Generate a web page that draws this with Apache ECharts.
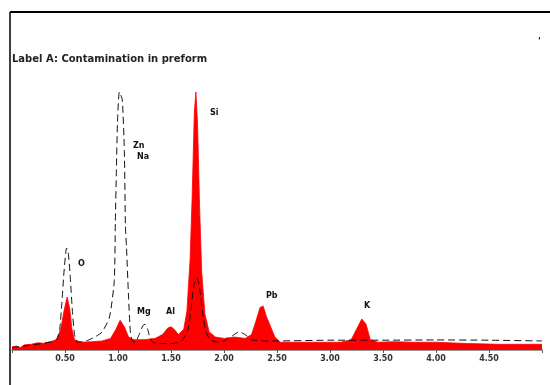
<!DOCTYPE html>
<html>
<head>
<meta charset="utf-8">
<script src="https://cdn.jsdelivr.net/npm/echarts@6/dist/echarts.min.js"></script>
<style>
  html, body { margin: 0; padding: 0; background: #fff; }
  #chart { width: 550px; height: 385px; }
</style>
</head>
<body>
<div id="chart"></div>
<script>
// spectrum A (red filled)
const redEnergy = [0.00, 0.04, 0.08, 0.12, 0.18, 0.24, 0.30, 0.36, 0.42, 0.46, 0.49, 0.52, 0.545, 0.565, 0.59, 0.65, 0.75, 0.85, 0.93, 0.98, 1.02, 1.06, 1.10, 1.15, 1.25, 1.35, 1.42, 1.47, 1.50, 1.53, 1.57, 1.62, 1.65, 1.68, 1.70, 1.72, 1.735, 1.75, 1.77, 1.79, 1.82, 1.86, 1.92, 2.00, 2.10, 2.20, 2.26, 2.30, 2.34, 2.37, 2.40, 2.44, 2.48, 2.53, 2.70, 2.90, 3.10, 3.20, 3.25, 3.30, 3.34, 3.38, 3.45, 3.60, 3.80, 4.00, 4.30, 4.60, 5.00];
const redCounts = [1.2, 1.5, 1.0, 2.0, 2.2, 2.8, 2.6, 3.2, 4, 8, 15, 20.5, 16, 8, 4, 3, 3.2, 3.5, 4.5, 8, 11.5, 9, 5, 4, 4, 4.5, 6, 8.5, 9, 8, 6, 8, 15, 35, 60, 92, 100, 88, 55, 30, 14, 7, 5, 4.5, 5, 4.5, 6, 11, 16.5, 17, 13, 9, 5, 3, 3, 3, 3, 4, 8, 12, 10, 4, 3, 3.2, 3, 3, 2.5, 2.2, 2.2];

// spectrum B (dashed)
const dashEnergy = [0.00, 0.20, 0.35, 0.42, 0.45, 0.47, 0.49, 0.515, 0.53, 0.55, 0.57, 0.59, 0.62, 0.70, 0.78, 0.85, 0.92, 0.965, 0.975, 0.985, 0.995, 1.013, 1.04, 1.06, 1.07, 1.08, 1.10, 1.115, 1.13, 1.16, 1.20, 1.235, 1.255, 1.28, 1.30, 1.33, 1.40, 1.50, 1.60, 1.66, 1.69, 1.715, 1.745, 1.77, 1.80, 1.83, 1.87, 1.95, 2.00, 2.08, 2.14, 2.20, 2.26, 2.35, 2.50, 3.00, 3.50, 4.00, 4.50, 5.00];
const dashCounts = [1, 2, 3, 4, 8, 18, 30, 39.5, 38, 28, 15, 6, 3, 3.5, 5, 7, 12.8, 27, 50, 70, 88, 100, 97, 77, 48, 40, 20, 8, 4, 3, 6, 9.5, 10, 8, 5, 3, 2.5, 2.5, 3.5, 8, 16, 25, 28, 24, 14, 7, 4, 3, 3.5, 5.5, 7, 6, 4, 3.5, 3.5, 3.8, 3.8, 3.9, 3.8, 3.5];

const tickLabels = ['', '0.50', '1.00', '1.50', '2.00', '2.50', '3.00', '3.50', '4.00', '4.50', ''];
const title = 'Label A: Contamination in preform';
const peakLabels = ['O', 'Zn', 'Na', 'Mg', 'Al', 'Si', 'Pb', 'K'];

const chart = echarts.init(document.getElementById('chart'), null, { renderer: 'canvas' });

const FONT = '"DejaVu Sans", "Liberation Sans", sans-serif';

const lbl = (text, x, y) => ({
  type: 'text',
  left: x, top: y,
  style: { text: text, fill: '#111', font: 'bold 8px ' + FONT }
});

const option = {
  animation: false,
  grid: { left: 12, right: 8, top: 92, bottom: 35 },
  xAxis: {
    type: 'value',
    min: 0,
    max: 5,
    interval: 0.5,
    axisLine: { lineStyle: { color: '#777', width: 1.5 } },
    axisTick: { show: true, length: 3, lineStyle: { color: '#555' } },
    axisLabel: {
      color: '#333',
      fontSize: 8,
      fontWeight: 'bold',
      fontFamily: FONT,
      margin: 5,
      formatter: (v) => tickLabels[Math.round(v / 0.5)]
    },
    splitLine: { show: false }
  },
  yAxis: {
    type: 'value',
    min: 0,
    max: 100,
    show: false
  },
  series: [
    {
      type: 'line',
      data: redEnergy.map((e, i) => [e, redCounts[i]]),
      symbol: 'none',
      lineStyle: { color: '#ff0000', width: 0.8 },
      areaStyle: { color: '#ff0000', opacity: 1 },
      z: 2
    },
    {
      type: 'line',
      data: dashEnergy.map((e, i) => [e, dashCounts[i]]),
      symbol: 'none',
      smooth: 0.2,
      lineStyle: { color: '#111', width: 1, type: [7, 4] },
      z: 3
    }
  ],
  graphic: [
    { type: 'line', shape: { x1: 10, y1: 12, x2: 550, y2: 12 }, style: { stroke: '#000', lineWidth: 2 } },
    { type: 'line', shape: { x1: 10, y1: 12, x2: 10, y2: 385 }, style: { stroke: '#000', lineWidth: 1.5 } },
    {
      type: 'text', left: 12, top: 54,
      style: { text: title, fill: '#222', font: 'bold 10px ' + FONT }
    },
    { type: 'text', left: 538, top: 37, style: { text: "'", fill: '#111', font: 'bold 9px ' + FONT } },
    lbl(peakLabels[0], 78, 260),
    lbl(peakLabels[1], 133, 142),
    lbl(peakLabels[2], 137, 153),
    lbl(peakLabels[3], 137, 308),
    lbl(peakLabels[4], 166, 308),
    lbl(peakLabels[5], 210, 109),
    lbl(peakLabels[6], 266, 292),
    lbl(peakLabels[7], 364, 302)
  ]
};

chart.setOption(option);
</script>
</body>
</html>
